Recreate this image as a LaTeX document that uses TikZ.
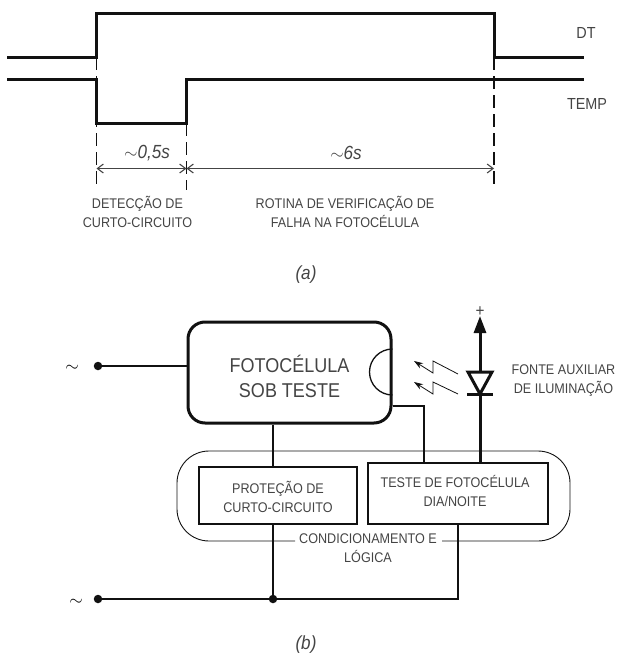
\documentclass[tikz,border=0pt]{standalone}
\usepackage{fontspec}
\usepackage{xcolor}
\usepackage{tikz}
\usetikzlibrary{arrows.meta,positioning,calc}
\setmainfont[FakeStretch=0.9]{Liberation Sans}
\definecolor{ink}{HTML}{111111}
\definecolor{lettering}{HTML}{444444}

\begin{document}
\begin{tikzpicture}[x=1pt,y=-1pt,
    trace/.style={draw=ink, line width=3pt, line join=miter},
    wire/.style={draw=ink, line width=2.6pt},
    thin line/.style={draw=ink, line width=0.9pt},
    guide/.style={draw=ink, line width=1.4pt, dash pattern=on 13pt off 6pt},
    span/.style={draw=lettering, line width=1.1pt, {Straight Barb[length=6pt,width=9pt]}-{Straight Barb[length=6pt,width=9pt]}},
    ray/.style={draw=ink, line width=0.8pt, -{Stealth[length=9pt,width=6pt]}},
    caption/.style={text=lettering, font=\fontsize{14}{19}\selectfont, align=center, inner sep=0pt},
    time/.style={text=lettering, font=\fontsize{19}{20}\selectfont\itshape, inner sep=0pt},
    blockbox/.style={rectangle, draw=ink, line width=2.6pt, fill=white, inner sep=0pt},
    dotnode/.style={circle, fill=ink, minimum size=8.5pt, inner sep=0pt},
]
\useasboundingbox (0,0) rectangle (618,656);

% timing part
\coordinate (dtstart) at (7,57);
\coordinate (dtrise) at (96.5,57);
\coordinate (dthigh) at (96.5,13);
\coordinate (dtfall) at (494,13);
\coordinate (dtlow) at (494,57);
\coordinate (dtend) at (583.5,57);
\coordinate (tpstart) at (7,79);
\coordinate (tpfall) at (96.5,79);
\coordinate (tplow) at (96.5,123);
\coordinate (tprise) at (186.5,123);
\coordinate (tphigh) at (186.5,79);
\coordinate (tpend) at (583.5,79);

\draw[guide] (dtrise) -- ++(0,130) coordinate (guidea);
\draw[guide] (tprise) -- ++(0,67) coordinate (guideb);
\draw[guide] (dtlow) -- ++(0,130) coordinate (guidec);

\draw[trace] (dtstart) -- (dtrise) -- (dthigh) -- (dtfall) -- (dtlow) -- (dtend);
\draw[trace] (tpstart) -- (tpfall) -- (tplow) -- (tprise) -- (tphigh) -- (tpend);

\coordinate (spana) at (96.5,168.5);
\coordinate (spanb) at (186.5,168.5);
\coordinate (spanc) at (494,168.5);
\draw[span] (spana) -- (spanb);
\draw[span] (spanb) -- (spanc);

\node[caption, font=\fontsize{16}{19}\selectfont] (dtlabel) at (586,33) {DT};
\node[caption, font=\fontsize{16}{19}\selectfont] (templabel) at (587,104) {TEMP};
\node[time] (shorttime) at (147,153) {$\sim$0,5s};
\node[time] (longtime) at (346,153) {$\sim$6s};
\node[caption] (detect) at (137.5,211.5) {DETECÇÃO DE\\CURTO-CIRCUITO};
\node[caption] (rotina) at (345,211.5) {ROTINA DE VERIFICAÇÃO DE\\FALHA NA FOTOCÉLULA};
\node[time] (parta) at (306,275) {(a)};

% block part
\draw[thin line, rounded corners=32pt] (295,541) -- (177,541) -- (177,451) -- (570,451) -- (570,541) -- (442,541);

\node[blockbox, line width=3pt, rounded corners=17pt, minimum width=203pt, minimum height=101pt] (foto) at (289.5,372.5) {};
\node[text=lettering, font=\fontsize{20}{25}\selectfont, align=center, inner sep=0pt, yshift=-4pt] (fototext) at (foto) {FOTOCÉLULA\\SOB TESTE};
\draw[thin line, line width=1.3pt] (foto.east |- 0,349) arc[start angle=90, delta angle=180, radius=23pt];

\node[blockbox, minimum width=158pt, minimum height=57pt] (prot) at (278,495.5) {};
\node[caption, below=15pt of prot.north] (prottext) {PROTEÇÃO DE\\CURTO-CIRCUITO};
\node[blockbox, minimum width=180pt, minimum height=61pt] (teste) at (458,493.5) {};
\node[caption, below=13pt of teste.north, xshift=-3pt] (testetext) {TESTE DE FOTOCÉLULA\\DIA/NOITE};
\node[caption] (cond) at (368,548) {CONDICIONAMENTO E\\LÓGICA};

\node[dotnode] (dottop) at (98,366) {};
\node[dotnode] (dotbot) at (98,599) {};
\node[dotnode] (dotmid) at (273,599) {};
\node[font=\fontsize{18}{18}\selectfont, inner sep=0pt] (acone) at (72,368) {$\sim$};
\node[font=\fontsize{18}{18}\selectfont, inner sep=0pt] (actwo) at (76,602) {$\sim$};

\draw[wire] (dottop) -- (dottop -| foto.west);
\draw[wire] (dotbot) -- (teste.south |- dotbot) -- (teste.south);
\draw[wire] (dotmid) -- (dotmid |- prot.south);
\draw[wire] (dotmid |- foto.south) -- (dotmid |- prot.north);
\draw[wire] (foto.east |- 0,406) -- (424,406) -- (424,463);

% diode and source
\coordinate (dioapex) at (480,394);
\coordinate (dioleft) at (468,372);
\coordinate (dioright) at (492,372);
\coordinate (barleft) at (467,394);
\coordinate (barright) at (493,394);
\coordinate (supply) at (480,316);
\draw[trace] (teste.north -| dioapex) -- (dioapex);
\draw[trace] (barleft) -- (barright);
\draw[trace] (dioleft) -- (dioright) -- (dioapex) -- cycle;
\draw[trace, -{Triangle[length=17pt,width=12pt]}] (dioleft -| dioapex) -- (supply);
\node[caption, font=\fontsize{17}{17}\selectfont, above=-1pt of supply] (plus) {+};

\coordinate (rayatip) at (414,361);
\coordinate (rayaend) at (458,374);
\coordinate (raybtip) at (414,382);
\coordinate (raybend) at (458,394);
\draw[ray] (rayaend) -- (433,361) -- (433,373) -- (rayatip);
\draw[ray] (raybend) -- (433,382) -- (433,394) -- (raybtip);

\node[caption] (fonte) at (563.5,380.5) {FONTE AUXILIAR\\DE ILUMINAÇÃO};
\node[time] (partb) at (306,645) {(b)};

\end{tikzpicture}
\end{document}
